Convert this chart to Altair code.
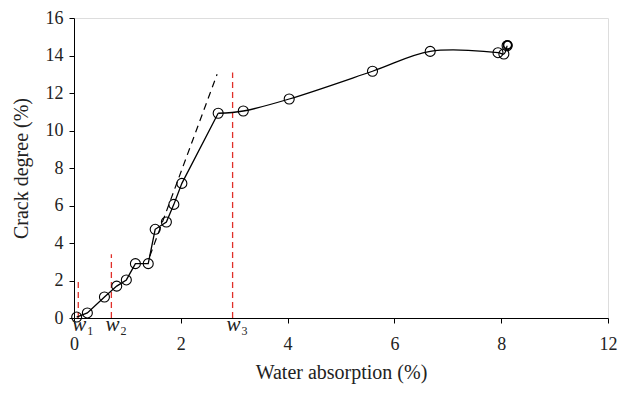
import altair as alt
import pandas as pd

# measured points (water absorption %, crack degree %)
wa = [0.05, 0.25, 0.57, 0.80, 0.98, 1.15, 1.39, 1.52, 1.73, 1.87, 2.02, 2.70, 3.17, 4.03, 5.59, 6.67, 7.94, 8.05, 8.11]
cd = [0.05, 0.27, 1.12, 1.70, 2.03, 2.90, 2.90, 4.73, 5.12, 6.06, 7.18, 10.92, 11.04, 11.68, 13.16, 14.22, 14.15, 14.08, 14.52]
# index where the connecting line switches from straight segments to a smooth curve
SMOOTH_FROM = 11

# extra overlapping marker at the last point (drawn bold in the reference)
extra_x = [8.12]
extra_y = [14.56]

# dashed tangent line
tan_x = [1.42, 2.68]
tan_y = [3.3, 13.0]

# red threshold lines
w_names = ["1", "2", "3"]
w_x = [0.08, 0.70, 2.97]
w_top = [2.0, 3.4, 13.1]

x_ticks = [0, 2, 4, 6, 8, 10]
y_ticks = [0, 2, 4, 6, 8, 10, 12, 14, 16]

FONT = "Liberation Serif"

pts = pd.DataFrame({"x": wa, "y": cd, "order": list(range(len(wa)))})
low = pts.iloc[:SMOOTH_FROM + 1]
high = pts.iloc[SMOOTH_FROM:]
ext = pd.DataFrame({"x": extra_x, "y": extra_y})
tan = pd.DataFrame({"x": tan_x, "y": tan_y})
wdf = pd.DataFrame({"name": w_names, "x": w_x, "y0": [0] * 3, "y1": w_top,
                    "ly": [-0.5] * 3})

xscale = alt.Scale(domain=[0, 10], nice=False)
yscale = alt.Scale(domain=[0, 16], nice=False)

xaxis = alt.Axis(values=x_ticks, title="Water absorption (%)",
                 labelExpr="datum.value == 10 ? '12' : datum.label",
                 grid=False, tickSize=5, labelPadding=12, titlePadding=9,
                 labelOverlap=False, labelFlush=False,
                 domainColor="black", tickColor="black", labelColor="#222",
                 titleColor="#222", labelFont=FONT, titleFont=FONT,
                 labelFontSize=18, titleFontSize=20, titleFontWeight="normal")
yaxis = alt.Axis(values=y_ticks, title="Crack degree (%)",
                 grid=False, tickSize=5, labelPadding=6, titlePadding=14,
                 labelOverlap=False, labelFlush=False,
                 domainColor="black", tickColor="black", labelColor="#222",
                 titleColor="#222", labelFont=FONT, titleFont=FONT,
                 labelFontSize=18, titleFontSize=20, titleFontWeight="normal")

X = alt.X("x:Q", scale=xscale, axis=xaxis)

def Y(field):
    return alt.Y(field, type="quantitative", scale=yscale, axis=yaxis)

red = alt.Chart(wdf).mark_rule(color="#e0302a", strokeDash=[6, 4], strokeWidth=1.3).encode(
    x=X, y=Y("y0"), y2="y1:Q",
)

tline = alt.Chart(tan).mark_line(color="black", strokeDash=[7, 5], strokeWidth=1.2).encode(
    x=X, y=Y("y"),
)

curve_low = alt.Chart(low).mark_line(color="black", strokeWidth=1.3, interpolate="linear").encode(
    x=X, y=Y("y"), order="order:Q",
)
curve_high = alt.Chart(high).mark_line(color="black", strokeWidth=1.3, interpolate="catmull-rom").encode(
    x=X, y=Y("y"), order="order:Q",
)

circles = alt.Chart(pts).mark_point(shape="circle", size=100, color="black",
                                    filled=False, strokeWidth=1.1, opacity=1).encode(
    x=X, y=Y("y"),
)

circles2 = alt.Chart(ext).mark_point(shape="circle", size=70, color="black",
                                     filled=False, strokeWidth=1.8, opacity=1).encode(
    x=X, y=Y("y"),
)

wlab = alt.Chart(wdf).mark_text(text="w", font=FONT, fontStyle="italic", fontSize=21,
                                color="#222", dx=1, dy=-2, baseline="middle").encode(
    x=X, y=Y("ly"),
)
wsub = alt.Chart(wdf).mark_text(font=FONT, fontSize=12, color="#222", dx=12, dy=4,
                                baseline="middle").encode(
    x=X, y=Y("ly"), text="name:N",
)

chart = alt.layer(red, tline, curve_low, curve_high, circles, circles2, wlab, wsub).properties(
    width=534, height=300,
    autosize=alt.AutoSizeParams(type="none"),
    padding={"left": 66, "top": 10, "right": 12, "bottom": 70},
).configure_view(stroke=None).configure(background="white")

chart.save("out.html", embed_options={"renderer": "svg", "actions": False})
